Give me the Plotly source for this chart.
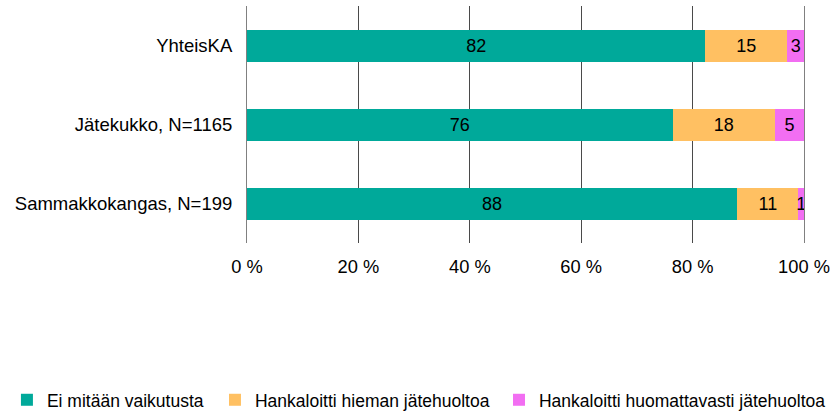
import plotly.graph_objects as go

categories = ["YhteisKA", "Jätekukko, N=1165", "Sammakkokangas, N=199"]
series_names = ["Ei mitään vaikutusta", "Hankaloitti hieman jätehuoltoa", "Hankaloitti huomattavasti jätehuoltoa"]
ei_vaikutusta = [82.3, 76.4, 88.0]
hieman = [14.7, 18.4, 11.0]
huomattavasti = [3.0, 5.2, 1.0]
tick_vals = [0, 20, 40, 60, 80, 100]
tick_labels = ["0 %", "20 %", "40 %", "60 %", "80 %", "100 %"]

colors = ["#00A99A", "#FFC062", "#F26EF2"]
FONT = "Liberation Sans, Arial, sans-serif"
legend_ids = ["legend", "legend2", "legend3"]
legend_x = [-0.431, -0.0575, 0.4524]

fig = go.Figure()
for name, vals, col, lg in zip(series_names, [ei_vaikutusta, hieman, huomattavasti], colors, legend_ids):
    fig.add_trace(go.Bar(
        y=categories, x=vals, name=name, orientation="h",
        marker=dict(color=col, line=dict(width=0)),
        texttemplate="%{x:.0f}", textposition="inside", insidetextanchor="middle",
        textfont=dict(color="black", size=18, family=FONT),
        constraintext="none", hoverinfo="skip", legend=lg,
    ))

legend_common = dict(
    orientation="h", xref="paper", yref="paper",
    y=-0.662, xanchor="left", yanchor="middle",
    font=dict(size=17.5, family=FONT, color="black"),
    itemwidth=30, tracegroupgap=0, traceorder="normal",
    bgcolor="rgba(0,0,0,0)",
)

fig.update_layout(
    barmode="stack",
    bargap=0.595,
    width=834, height=412,
    margin=dict(l=247, r=30, t=6, b=169, autoexpand=False),
    paper_bgcolor="white", plot_bgcolor="white",
    font=dict(family=FONT, size=18, color="black"),
    uniformtext=dict(minsize=18, mode="show"),
    showlegend=True,
    legend=dict(x=legend_x[0], **legend_common),
    legend2=dict(x=legend_x[1], **legend_common),
    legend3=dict(x=legend_x[2], **legend_common),
    xaxis=dict(
        range=[0, 100], tickvals=tick_vals, ticktext=tick_labels,
        showgrid=True, gridcolor="#4a4a4a", gridwidth=1,
        zeroline=False, showline=False, ticks="",
        ticklabelstandoff=11, fixedrange=True,
        tickfont=dict(size=18.3),
    ),
    yaxis=dict(
        categoryorder="array", categoryarray=categories[::-1],
        showgrid=False, zeroline=False, ticks="",
        showline=True, mirror=True, linecolor="#808080", linewidth=1,
        ticklabelstandoff=10, fixedrange=True,
        tickfont=dict(size=18.5),
    ),
)

fig.write_html("out.html", config={"displayModeBar": False},
               post_script="document.body.style.margin='0';")
